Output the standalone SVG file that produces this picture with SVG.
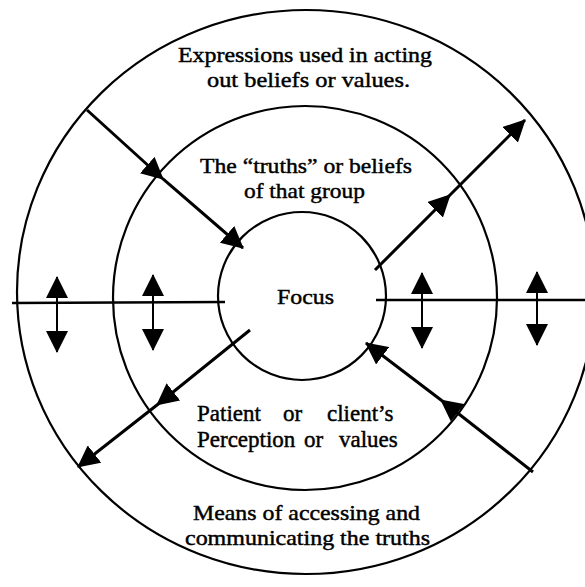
<svg xmlns="http://www.w3.org/2000/svg" width="585" height="587" viewBox="0 0 585 587">
  <style>
    .ring { fill: none; stroke: #000; stroke-width: 2.2; }
    .axis { fill: none; stroke: #000; stroke-width: 2.6; }
    .diag { fill: none; stroke: #000; stroke-width: 3; marker-mid: url(#ah); marker-end: url(#ah); }
    .dbl { fill: none; stroke: #000; stroke-width: 2; marker-start: url(#ah); marker-end: url(#ah); }
    .lbl { font-size: 22px; fill: #000; stroke: #000; stroke-width: 0.45; }
    .big { font-size: 23px; }
    .c { text-anchor: middle; }
  </style>
  <defs>
    <marker id="ah" viewBox="0 0 22 22" refX="21" refY="11" markerWidth="22" markerHeight="22" markerUnits="userSpaceOnUse" orient="auto-start-reverse">
      <path d="M0,0 L22,11 L0,22 z" fill="#000"/>
    </marker>
  </defs>
  <rect width="585" height="587" fill="#fff"/>

  <g font-family="'Liberation Serif', 'DejaVu Serif', 'Times New Roman', serif">
  <g id="outer-ring">
    <ellipse class="ring" cx="306" cy="292" rx="289" ry="282"/>
    <text class="lbl" x="178" y="62" textLength="254" lengthAdjust="spacingAndGlyphs">Expressions used in acting</text>
    <text class="lbl" x="207" y="87" textLength="203" lengthAdjust="spacingAndGlyphs">out beliefs or values.</text>
    <text class="lbl" x="193" y="520" textLength="227" lengthAdjust="spacingAndGlyphs">Means of accessing and</text>
    <text class="lbl" x="185" y="545" textLength="245" lengthAdjust="spacingAndGlyphs">communicating the truths</text>
  </g>

  <g id="middle-ring">
    <circle class="ring" cx="305" cy="298" r="192"/>
    <text class="lbl" x="200" y="173" textLength="212" lengthAdjust="spacingAndGlyphs">The “truths” or beliefs</text>
    <text class="lbl" x="244" y="198" textLength="121" lengthAdjust="spacingAndGlyphs">of that group</text>
    <text class="lbl big" y="421"><tspan x="197">Patient</tspan><tspan x="283">or</tspan><tspan x="327">client’s</tspan></text>
    <text class="lbl big" y="447"><tspan x="197">Perception</tspan><tspan x="304">or</tspan><tspan x="339">values</tspan></text>
  </g>

  <g id="focus">
    <circle class="ring" cx="302" cy="296" r="84"/>
    <text class="lbl" x="277" y="304" textLength="57" lengthAdjust="spacingAndGlyphs">Focus</text>
  </g>
  </g>

  <g id="connectors">
    <path class="axis" d="M12,303 L225,302"/>
    <path class="axis" d="M376,300 L585,300"/>
    <path class="diag" d="M87,110 L163,179 L243,248"/>
    <path class="diag" d="M375,270 L450,195 L525,120"/>
    <path class="diag" d="M250,330 L157,405 L78,467"/>
    <path class="diag" d="M533,472 L441,400 L366,343"/>
    <path class="dbl" d="M57,277 L57,352"/>
    <path class="dbl" d="M153,275 L153,350"/>
    <path class="dbl" d="M422,273 L422,348"/>
    <path class="dbl" d="M537,272 L537,345"/>
  </g>
</svg>
